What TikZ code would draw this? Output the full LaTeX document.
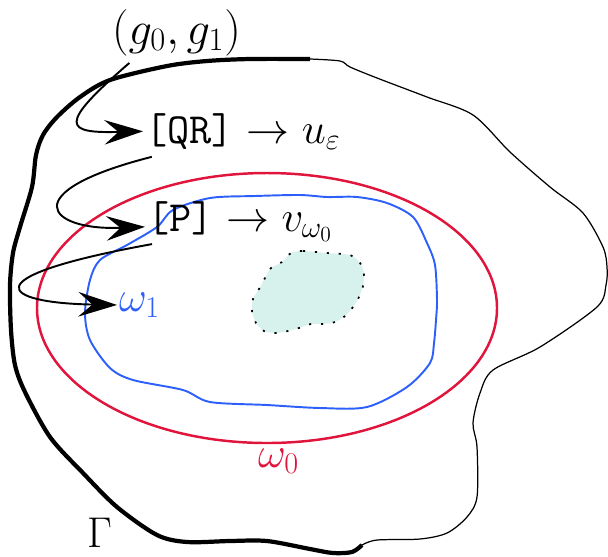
\RequirePackage{fix-cm}
\documentclass[tikz,border=0pt]{standalone}
\usetikzlibrary{arrows.meta}
\definecolor{omegared}{RGB}{225,20,60}
\definecolor{omegablue}{RGB}{45,95,250}
\definecolor{blobfill}{RGB}{215,242,237}

\begin{document}
\begin{tikzpicture}[
    x=0.02cm, y=-0.02cm,
    >={Stealth[length=22pt, width=14pt, inset=8pt]},
    lbl/.style={inner sep=1pt, anchor=base west, font=\fontsize{24.5}{29}\selectfont},
    conn/.style={->, line width=1.1pt},
    bdthick/.style={line width=2.4pt, line join=round},
    bdthin/.style={line width=0.7pt, line join=round},
    blobline/.style={fill=blobfill, dash pattern=on 1.2pt off 5.6pt, line width=1pt},
]
\useasboundingbox (0,0) rectangle (608,556);

% outer boundary Gamma: thick part, then thin part
\draw[bdthick] plot[smooth] coordinates {(310,59) (250,59) (207,61) (167,66) (110,80)
    (80,97) (57,117) (43,135) (36,155) (32,187) (20,227) (13,253) (10,285) (11,330)
    (15,365) (25,392) (50,437) (83,473) (117,507) (157,535) (187,542) (230,541)
    (267,541) (310,549) (333,553) (352,552) (362,545)};
\draw[bdthin] plot[smooth] coordinates {(362,545) (377,540) (420,539) (447,533)
    (467,517) (477,497) (477,447) (473,423) (480,393) (493,370) (540,347) (597,307)
    (606,285) (607,267) (603,247) (583,213) (550,187) (510,152) (473,115) (427,97)
    (377,78) (350,67) (340,61) (310,59)};

% omega_0
\draw[omegared, line width=1.4pt] (267,308) ellipse [x radius=230, y radius=135];

% omega_1
\draw[omegablue, line width=1.1pt] plot[smooth cycle] coordinates {(210,198) (255,196)
    (300,195) (327,197) (357,197) (387,203) (413,217) (427,243) (435,265) (437,300)
    (436,320) (434,343) (430,363) (407,387) (367,407) (320,408) (267,405) (210,402)
    (183,390) (133,380) (110,368) (90,340) (85,313) (90,280) (100,260) (127,245)
    (157,227) (173,210)};

% inner patch
\draw[blobline] plot[smooth cycle] coordinates {(291,253) (303,251) (327,253) (350,255)
    (360,263) (364,273) (363,286) (359,297) (353,307) (345,316) (335,322) (323,324)
    (311,324) (299,328) (288,331) (276,333) (264,331) (256,323) (252,311) (253,299)
    (259,289) (265,278) (271,268) (282,262)};

% labels
\node[lbl, font=\fontsize{26.5}{32}\selectfont] (data) at (110,44) {$(g_0,g_1)$};
\node[lbl] (qr) at (143,143) {\texttt{[QR]} $\to u_\varepsilon$};
\node[lbl] (proj) at (145,231) {\texttt{[P]} $\to v_{\omega_0}$};
\node[lbl, text=omegablue] (omegaone) at (117,311) {$\omega_1$};
\node[lbl, text=omegared] (omegazero) at (256,467) {$\omega_0$};
\node[lbl] (gamma) at (85,547) {$\Gamma$};

% arrows
\draw[conn] ([xshift=11pt,yshift=-3pt]data.south west) .. controls +(-73,63) and +(-78,2) .. (qr.west);
\draw[conn] ([xshift=5pt,yshift=-3pt]qr.south west) .. controls +(-138,35) and +(-98,4) .. ([yshift=-3pt]proj.west);
\draw[conn] ([xshift=4pt]proj.south west) .. controls +(-183,33) and +(-117,-2) .. (omegaone.west);

\end{tikzpicture}
\end{document}
